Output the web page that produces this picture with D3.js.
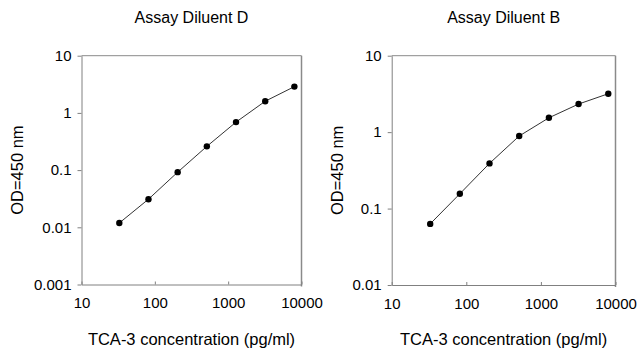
<!DOCTYPE html>
<html lang="en">
  <head>
    <meta charset="utf-8" />
    <title>TCA-3 standard curves</title>
    <script src="https://d3js.org/d3.v7.min.js"></script>
    <style>
      body {
        margin: 0;
        background: white;
      }
      text {
        font-family: "Liberation Sans", Arial, sans-serif;
        fill: #000;
      }
      .tick text {
        font-size: 15px;
      }
      .tick line,
      .domain {
        stroke: #808080;
      }
    </style>
  </head>
  <body>
    <svg width="640" height="353"></svg>
    <script type="text/javascript">
      // standard concentrations (pg/ml), 2.5-fold dilutions
      const concentrations = [32.8, 81.9, 204.8, 512, 1280, 3200, 8000];
      const odDiluentD = [0.0119, 0.031, 0.092, 0.26, 0.69, 1.6, 2.88];
      const odDiluentB = [0.063, 0.156, 0.39, 0.89, 1.54, 2.33, 3.18];
      const xTicks = [10, 100, 1000, 10000];
      const yTicksD = [0.001, 0.01, 0.1, 1, 10];
      const yTicksB = [0.01, 0.1, 1, 10];

      const panels = [
        {
          title: "Assay Diluent D",
          values: odDiluentD,
          yTicks: yTicksD,
          left: 81.5,
          right: 301.5,
          top: 55.7,
          bottom: 284.5,
          yLabelX: 22.5,
        },
        {
          title: "Assay Diluent B",
          values: odDiluentB,
          yTicks: yTicksB,
          left: 391.7,
          right: 615.5,
          top: 55.7,
          bottom: 285,
          yLabelX: 343,
        },
      ];

      const svg = d3.select("svg");

      panels.forEach((p) => {
        const x = d3
          .scaleLog()
          .domain([10, 10000])
          .range([p.left, p.right]);
        const y = d3
          .scaleLog()
          .domain(d3.extent(p.yTicks))
          .range([p.bottom, p.top]);

        const g = svg.append("g");

        // box: top and right borders
        g.append("line")
          .attr("x1", p.left)
          .attr("x2", p.right)
          .attr("y1", p.top)
          .attr("y2", p.top)
          .attr("stroke", "#8a8a8a");
        g.append("line")
          .attr("x1", p.right)
          .attr("x2", p.right)
          .attr("y1", p.top)
          .attr("y2", p.bottom + 2)
          .attr("stroke", "#8a8a8a")
          .attr("stroke-width", 1.5);

        g.append("g")
          .attr("transform", `translate(0,${p.bottom})`)
          .call(
            d3
              .axisBottom(x)
              .tickValues(xTicks)
              .tickFormat((d) => String(d))
              .tickSizeInner(-3)
              .tickSizeOuter(0)
              .tickPadding(10)
          )
          .call((a) => a.selectAll(".tick text").attr("dy", "0.9em"));

        g.append("g")
          .attr("transform", `translate(${p.left},0)`)
          .call(
            d3
              .axisLeft(y)
              .tickValues(p.yTicks)
              .tickFormat((d) => String(d))
              .tickSizeInner(4)
              .tickSizeOuter(0)
              .tickPadding(6)
          );

        const line = d3
          .line()
          .x((d, i) => x(concentrations[i]))
          .y((d) => y(d));

        g.append("path")
          .datum(p.values)
          .attr("d", line)
          .attr("fill", "none")
          .attr("stroke", "#333")
          .attr("stroke-width", 1);

        g.append("g")
          .selectAll("circle")
          .data(p.values)
          .join("circle")
          .attr("cx", (d, i) => x(concentrations[i]))
          .attr("cy", (d) => y(d))
          .attr("r", 3.2)
          .attr("fill", "#000");

        // titles
        const cx = (p.left + p.right) / 2;
        g.append("text")
          .attr("x", cx)
          .attr("y", 22.5)
          .attr("text-anchor", "middle")
          .attr("font-size", "16px")
          .text(p.title);
        g.append("text")
          .attr("x", cx)
          .attr("y", 345)
          .attr("text-anchor", "middle")
          .attr("font-size", "16.5px")
          .text("TCA-3 concentration (pg/ml)");
        g.append("text")
          .attr(
            "transform",
            `translate(${p.yLabelX},${(p.top + p.bottom) / 2}) rotate(-90)`
          )
          .attr("text-anchor", "middle")
          .attr("font-size", "16.5px")
          .text("OD=450 nm");
      });
    </script>
  </body>
</html>
